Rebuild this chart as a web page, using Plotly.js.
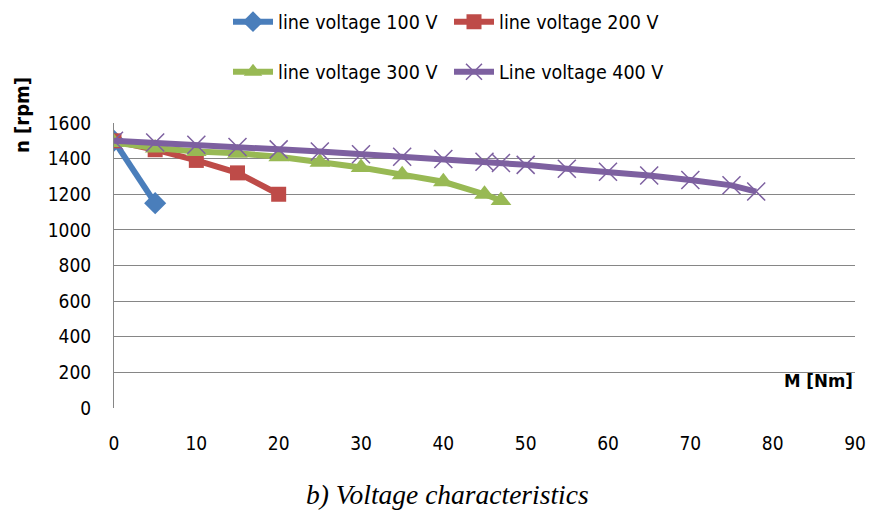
<!DOCTYPE html>
<html>
<head>
<meta charset="utf-8">
<script src="https://cdn.plot.ly/plotly-3.0.1.min.js"></script>
<style>
  html, body { margin: 0; padding: 0; background: #fff; }
  #chart { width: 872px; height: 516px; }
</style>
</head>
<body>
<div id="chart"></div>
<script>
// Torque M [Nm] against speed n [rpm] for four line voltages
const seriesNames = ["line voltage 100 V", "line voltage 200 V", "line voltage 300 V", "Line voltage 400 V"];

const m100 = [0, 5];
const n100 = [1500, 1150];

const m200 = [0, 5, 10, 15, 20];
const n200 = [1500, 1450, 1390, 1320, 1200];

const m300 = [0, 5, 10, 15, 20, 25, 30, 35, 40, 45, 47];
const n300 = [1490, 1460, 1440, 1430, 1410, 1380, 1350, 1310, 1270, 1200, 1165];

const m400 = [0, 5, 10, 15, 20, 25, 30, 35, 40, 45, 47, 50, 55, 60, 65, 70, 75, 78];
const n400 = [1500, 1490, 1478, 1465, 1452, 1440, 1425, 1410, 1398, 1382, 1375, 1365, 1343, 1326, 1305, 1280, 1250, 1215];

const xTicks = [0, 10, 20, 30, 40, 50, 60, 70, 80, 90];
const yTicks = [0, 200, 400, 600, 800, 1000, 1200, 1400, 1600];

const colors = ["#4A7EBB", "#BE4B48", "#98B954", "#7D60A0"];
const narrow = "'DejaVu Sans Condensed', 'Liberation Sans Narrow', 'Arial Narrow', 'Liberation Sans', sans-serif";

const traces = [
  { x: m100, y: n100, name: seriesNames[0], legend: "legend",
    line: { color: colors[0], width: 6 },
    marker: { symbol: "diamond", size: 17, color: colors[0] } },
  { x: m200, y: n200, name: seriesNames[1], legend: "legend",
    line: { color: colors[1], width: 6 },
    marker: { symbol: "square", size: 15, color: colors[1] } },
  { x: m300, y: n300, name: seriesNames[2], legend: "legend2",
    line: { color: colors[2], width: 6 },
    marker: { symbol: "triangle-up", size: 18, color: colors[2] } },
  { x: m400, y: n400, name: seriesNames[3], legend: "legend2",
    line: { color: colors[3], width: 6 },
    marker: { symbol: "x-thin", size: 18, color: colors[3], line: { color: colors[3], width: 1.5 } } }
].map(t => Object.assign({ type: "scatter", mode: "lines+markers" }, t));

const legendCommon = {
  orientation: "h",
  xref: "container", yref: "container",
  xanchor: "left", yanchor: "middle",
  x: 228 / 872,
  font: { family: narrow, size: 19.5, color: "#000" },
  entrywidth: 166, entrywidthmode: "pixels",
  itemwidth: 40,
  bgcolor: "rgba(0,0,0,0)",
  tracegroupgap: 0
};

const layout = {
  width: 872, height: 516,
  paper_bgcolor: "#fff", plot_bgcolor: "#fff",
  margin: { l: 114, r: 17, t: 123, b: 108 },
  showlegend: true,
  legend: Object.assign({}, legendCommon, { y: 1 - 22 / 516 }),
  legend2: Object.assign({}, legendCommon, { y: 1 - 72 / 516 }),
  xaxis: {
    range: [0, 90], tickvals: xTicks, ticktext: xTicks.map(String),
    showgrid: false, zeroline: false, showline: false,
    ticks: "outside", ticklen: 18, tickcolor: "rgba(0,0,0,0)",
    tickfont: { family: narrow, size: 19, color: "#000" }
  },
  yaxis: {
    range: [0, 1600], tickvals: yTicks, ticktext: yTicks.map(String),
    showgrid: true, gridcolor: "#868686", gridwidth: 1,
    zeroline: false, showline: true, linecolor: "#868686", linewidth: 1,
    ticks: "outside", ticklen: 18, tickcolor: "rgba(0,0,0,0)",
    tickfont: { family: narrow, size: 19, color: "#000" }
  },
  annotations: [
    { text: "<b>n [rpm]</b>", xref: "paper", yref: "paper",
      x: (22 - 114) / 741, y: (408 - 115) / 285, xanchor: "center", yanchor: "middle",
      textangle: -90, showarrow: false,
      font: { family: narrow, size: 20, color: "#000" } },
    { text: "<b>M [Nm]</b>", xref: "paper", yref: "paper",
      x: 1, y: (408 - 380) / 285, xanchor: "right", yanchor: "middle",
      showarrow: false,
      font: { family: narrow, size: 18.5, color: "#000" } },
    { text: "<i>b) Voltage characteristics</i>", xref: "paper", yref: "paper",
      x: (447 - 114) / 741, y: -(494 - 408) / 285, xanchor: "center", yanchor: "middle",
      showarrow: false,
      font: { family: "'Liberation Serif', 'Times New Roman', serif", size: 27.5, color: "#000" } }
  ]
};

Plotly.newPlot("chart", traces, layout, { displayModeBar: false, staticPlot: true });
</script>
</body>
</html>
